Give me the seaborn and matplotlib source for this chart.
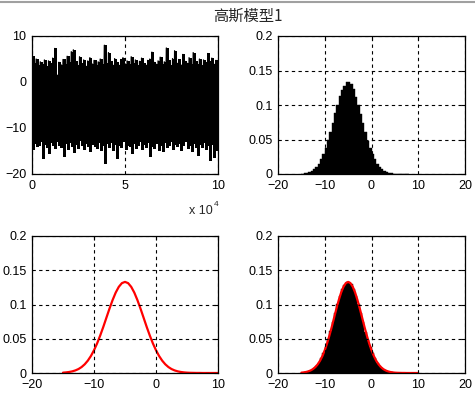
import numpy as np
import pandas as pd
import matplotlib
matplotlib.use("Agg")
import matplotlib.pyplot as plt
from matplotlib.lines import Line2D
import seaborn as sns

# ---------------- data ----------------
title = "高斯模型1"

# time series envelope (samples 0..1e5): upper and lower extremes
ts_upper = [5.6, 4.2, 5.0, 3.6, 4.4, 3.9, 4.8, 3.4, 4.6, 4.1,
            5.2, 7.3, 1.6, 4.3, 3.8, 4.9, 4.0, 5.6, 4.4, 6.6,
            7.0, 4.5, 3.7, 5.5, 4.1, 4.8, 3.5, 4.6, 5.3, 4.0,
            4.7, 3.6, 4.4, 5.0, 3.9, 8.0, 4.2, 6.4, 4.5, 3.8,
            5.1, 4.3, 3.7, 4.9, 5.3, 4.0, 4.6, 3.9, 5.5, 4.2,
            4.8, 3.6, 4.5, 5.2, 4.1, 3.8, 4.7, 5.0, 6.5, 4.3,
            3.9, 4.6, 5.4, 4.0, 4.4, 7.4, 4.8, 3.7, 5.1, 6.8,
            4.2, 4.9, 3.8, 6.0, 4.5, 4.1, 5.3, 3.9, 6.4, 4.6,
            4.0, 5.0, 3.7, 4.8, 4.3, 6.2, 4.5, 5.2, 3.9, 4.7]
ts_lower = [-14.6, -13.2, -14.0, -13.6, -12.8, -16.5, -13.4, -14.2, -15.5, -13.1,
            -13.8, -14.4, -12.9, -13.7, -14.1, -16.0, -13.3, -14.5, -13.0, -13.9,
            -15.2, -13.5, -14.3, -12.7, -13.8, -14.6, -13.2, -14.0, -15.0, -13.4,
            -13.9, -14.4, -13.1, -14.8, -13.6, -17.6, -13.3, -14.2, -13.0, -14.7,
            -13.5, -16.6, -13.8, -14.1, -12.9, -14.5, -13.6, -14.0, -15.5, -13.2,
            -14.3, -13.7, -12.8, -14.6, -13.4, -14.1, -13.0, -16.0, -13.9, -14.4,
            -13.3, -14.7, -13.6, -15.0, -13.1, -14.2, -13.8, -12.9, -14.5, -13.5,
            -14.0, -13.3, -14.8, -13.7, -12.8, -14.3, -13.6, -14.9, -13.2, -14.1,
            -15.8, -13.5, -14.2, -13.0, -14.6, -13.8, -17.0, -13.4, -16.2, -14.7]
n_samples = 100000

# histogram (bin width 0.5, from -15 to 8) density heights
hist_edges_start = -15.0
hist_bin_width = 0.5
hist_heights = [0.0007, 0.0012, 0.0019, 0.0031, 0.0047, 0.0073, 0.0105, 0.0150,
                0.0213, 0.0290, 0.0378, 0.0490, 0.0612, 0.0738, 0.0877, 0.1002,
                0.1125, 0.1222, 0.1280, 0.1330, 0.1335, 0.1300, 0.1225, 0.1118,
                0.1000, 0.0870, 0.0745, 0.0605, 0.0485, 0.0382, 0.0286, 0.0213,
                0.0150, 0.0107, 0.0071, 0.0048, 0.0030, 0.0019, 0.0012, 0.0007,
                0.0004, 0.0003, 0.0002, 0.0001, 0.0001, 0.0001]

# fitted pdf curve
pdf_x = [-15, -14.5, -14, -13.5, -13, -12.5, -12, -11.5, -11, -10.5,
         -10, -9.5, -9, -8.5, -8, -7.5, -7, -6.5, -6, -5.5,
         -5, -4.5, -4, -3.5, -3, -2.5, -2, -1.5, -1, -0.5,
         0, 0.5, 1, 1.5, 2, 2.5, 3, 3.5, 4, 4.5,
         5, 5.5, 6, 6.5, 7, 7.5, 8, 8.5, 9, 9.5, 10]
pdf_y = [0.0005, 0.0009, 0.0015, 0.0024, 0.0038, 0.0058, 0.0087, 0.0127, 0.0180, 0.0248,
         0.0332, 0.0432, 0.0547, 0.0673, 0.0807, 0.0940, 0.1065, 0.1174, 0.1258, 0.1312,
         0.1330, 0.1312, 0.1258, 0.1174, 0.1065, 0.0940, 0.0807, 0.0673, 0.0547, 0.0432,
         0.0332, 0.0248, 0.0180, 0.0127, 0.0087, 0.0058, 0.0038, 0.0024, 0.0015, 0.0009,
         0.0005, 0.0003, 0.0002, 0.0001, 0.0001, 0.0, 0.0, 0.0, 0.0, 0.0, 0.0]

ts_xticks = [0, 5, 10]
ts_yticks = [-20, -10, 0, 10]
den_yticks = [0, 0.05, 0.1, 0.15, 0.2]
den_yticklabels = ["0", "0.05", "0.1", "0.15", "0.2"]

# ---------------- styling ----------------
sns.set_theme(style="white")
plt.rcParams["font.family"] = ["Liberation Sans", "DejaVu Sans"]
plt.rcParams["axes.edgecolor"] = "black"
plt.rcParams["axes.linewidth"] = 0.9

W, H = 475, 395
fig = plt.figure(figsize=(W / 100, H / 100), dpi=100)
fig.patch.set_facecolor("white")


def make_ax(l, t, r, b):
    return fig.add_axes([l / W, 1 - b / H, (r - l) / W, (b - t) / H])


def style(ax):
    ax.grid(True, color="black", linestyle=(0, (3, 3)), linewidth=0.8)
    ax.set_axisbelow(False)
    ax.tick_params(direction="in", length=3, width=0.8, top=True, right=True,
                   labelsize=9, colors="black")
    ax.tick_params(axis="x", pad=4.5)
    ax.tick_params(axis="y", pad=4)
    for s in ax.spines.values():
        s.set_color("black")
        s.set_linewidth(0.9)
    ax.set_xlabel("")
    ax.set_ylabel("")


ax1 = make_ax(32, 36, 218, 174)
ax2 = make_ax(278, 36, 465, 174)
ax3 = make_ax(32, 236, 218, 373)
ax4 = make_ax(278, 236, 465, 373)

# --- time series: extremes per block as vertical strokes + zigzag ---
step = n_samples / len(ts_upper)
blk_x = [(i * step + step / 4) / 1e4 for i in range(len(ts_upper))]
ax1.vlines(blk_x, ts_lower, ts_upper, color="black", linewidth=1.9,
           antialiased=False)
xs, ys = [], []
for i, (u, lo) in enumerate(zip(ts_upper, ts_lower)):
    xs.append(i * step)
    ys.append(u)
    xs.append(i * step + step / 2)
    ys.append(lo)
ts_df = pd.DataFrame({"x": np.array(xs) / 1e4, "y": ys})
sns.lineplot(data=ts_df, x="x", y="y", ax=ax1, color="black", linewidth=0.9,
             estimator=None, sort=False)
ax1.set_xlim(0, 10)
ax1.set_ylim(-20, 10)
ax1.set_xticks(ts_xticks)
ax1.set_yticks(ts_yticks)
style(ax1)

# --- histogram ---
edges = [hist_edges_start + i * hist_bin_width for i in range(len(hist_heights) + 1)]
centers = [(edges[i] + edges[i + 1]) / 2 for i in range(len(hist_heights))]


def draw_hist(ax):
    sns.histplot(x=centers, weights=hist_heights, bins=edges, ax=ax,
                 color="black", edgecolor="black", linewidth=0.3, alpha=1.0,
                 stat="count")


draw_hist(ax2)
ax2.set_xlim(-20, 20)
ax2.set_ylim(0, 0.2)
ax2.set_xticks([-20, -10, 0, 10, 20])
ax2.set_yticks(den_yticks)
ax2.set_yticklabels(den_yticklabels)
style(ax2)

# --- pdf curve ---
pdf_df = pd.DataFrame({"x": pdf_x, "y": pdf_y})
sns.lineplot(data=pdf_df, x="x", y="y", ax=ax3, color="red", linewidth=1.6,
             estimator=None)
ax3.set_xlim(-20, 10)
ax3.set_ylim(0, 0.2)
ax3.set_xticks([-20, -10, 0, 10])
ax3.set_yticks(den_yticks)
ax3.set_yticklabels(den_yticklabels)
style(ax3)

# --- histogram + curve ---
draw_hist(ax4)
sns.lineplot(data=pdf_df, x="x", y="y", ax=ax4, color="red", linewidth=1.6,
             estimator=None)
ax4.set_xlim(-20, 20)
ax4.set_ylim(0, 0.2)
ax4.set_xticks([-20, -10, 0, 10, 20])
ax4.set_yticks(den_yticks)
ax4.set_yticklabels(den_yticklabels)
style(ax4)

# exponent label
fig.text(213 / W, 1 - 211 / H, "x 10", ha="right", va="center", fontsize=9)
fig.text(214 / W, 1 - 204 / H, "4", ha="left", va="center", fontsize=6)

# title
fig.text(248 / W, 1 - 16 / H, title, ha="center", va="center", fontsize=11,
         family=["Noto Sans CJK SC", "DejaVu Sans"])

# window edge line at top
fig.add_artist(Line2D([0, 1], [1 - 1.5 / H, 1 - 1.5 / H], color="#a0a0a0",
                      linewidth=1.5, transform=fig.transFigure))

fig.savefig("out.png", dpi=100, facecolor="white")
